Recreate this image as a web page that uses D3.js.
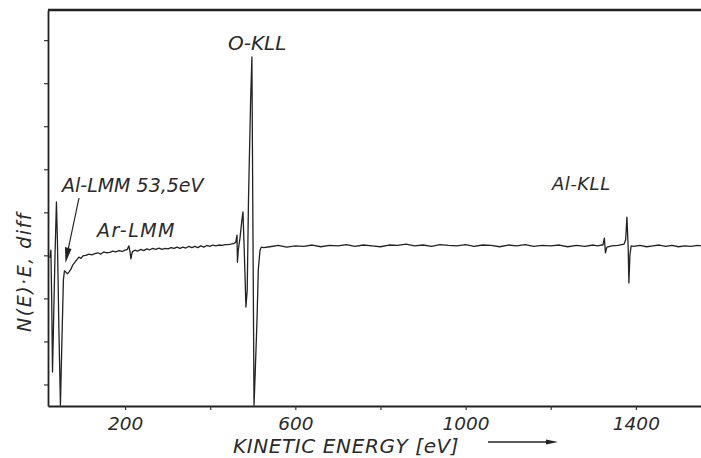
<!DOCTYPE html>
<html>
<head>
<meta charset="utf-8">
<script src="https://cdn.jsdelivr.net/npm/d3@7/dist/d3.min.js"></script>
<style>
  body { margin: 0; background: #fff; }
  text { font-family: "DejaVu Sans", sans-serif; font-style: italic; fill: #2a2a2a; }
</style>
</head>
<body>
<div id="spectrum"></div>
<script>
// Auger spectrum, N(E)*E differentiated (y in arbitrary divisions)

// low energy part: Al-LMM doublet + Ar-LMM
var lowEnergy = [23.5, 25.8, 27.7, 29.6, 31.7, 35.2, 38.8, 41.1, 44.6, 48.2, 51.7, 55.2, 57.6, 61.1, 64.6, 68.1, 72.8, 77.5, 84.6, 91.6,
    96.3, 101, 108, 115, 122, 129, 136, 143, 150, 157, 164, 171, 178, 186, 193, 200, 205.5, 209, 211.4, 213.8,
    217, 223, 230, 237, 244, 251, 258, 265, 272, 280, 287, 294, 301, 308, 315, 322, 329, 336, 343, 350,
    357, 364, 371, 378, 385, 392, 399, 406, 413, 420, 428, 435, 442, 449, 456, 460];
var lowSignal = [2.94, 3.12, 1.96, 0.29, 1.27, 2.89, 4.24, 3.36, 1.27, -0.48, 1.03, 2.43, 2.64, 2.61, 2.57, 2.61, 2.68, 2.78, 2.87, 2.96,
    2.93, 2.99, 3.00, 3.03, 3.01, 3.04, 3.06, 3.03, 3.08, 3.06, 3.07, 3.10, 3.08, 3.11, 3.09, 3.12, 3.14, 3.22, 3.10, 2.92,
    3.08, 3.12, 3.10, 3.14, 3.11, 3.15, 3.13, 3.16, 3.14, 3.17, 3.14, 3.16, 3.15, 3.18, 3.16, 3.19, 3.16, 3.19, 3.17, 3.21,
    3.18, 3.21, 3.18, 3.22, 3.19, 3.23, 3.21, 3.24, 3.22, 3.24, 3.23, 3.25, 3.25, 3.26, 3.28, 3.30];

// O-KLL group
var oxyEnergy = [463, 464, 466, 470, 474, 477, 480, 484, 487, 490, 495, 498, 500, 503, 506, 510, 513, 517, 520, 526];
var oxySignal = [3.47, 2.84, 3.12, 3.40, 3.78, 4.01, 3.12, 1.80, 2.20, 4.29, 6.61, 7.61, 4.29, -0.48, 0.34, 1.50, 2.66, 3.12, 3.19, 3.18];

// flat background up to Al-KLL
var midEnergy = [540, 560, 580, 600, 620, 640, 660, 680, 700, 720, 740, 760, 780, 800, 820, 840, 860, 880, 900, 920,
    940, 960, 980, 1000, 1020, 1040, 1060, 1080, 1100, 1120, 1140, 1160, 1180, 1200, 1220, 1240, 1260, 1280, 1300, 1310, 1318];
var midSignal = [3.20, 3.23, 3.19, 3.22, 3.21, 3.24, 3.20, 3.23, 3.22, 3.25, 3.21, 3.24, 3.22, 3.20, 3.24, 3.23, 3.26, 3.22, 3.24, 3.21,
    3.25, 3.23, 3.22, 3.25, 3.21, 3.24, 3.23, 3.20, 3.24, 3.22, 3.25, 3.21, 3.23, 3.22, 3.24, 3.20, 3.23, 3.21, 3.24, 3.22, 3.24];

// Al-KLL group and tail
var alEnergy = [1322.5, 1326, 1328.5, 1332, 1344, 1358, 1372, 1376, 1379, 1382, 1383.6, 1386, 1389, 1395, 1410, 1425, 1440, 1455, 1470, 1485,
    1500, 1515, 1530, 1545, 1553];
var alSignal = [3.24, 3.40, 3.06, 3.19, 3.22, 3.23, 3.26, 3.36, 3.89, 3.17, 2.36, 3.01, 3.22, 3.21, 3.23, 3.20, 3.22, 3.24, 3.21, 3.23,
    3.20, 3.22, 3.21, 3.23, 3.22];

var xTicks = [200, 400, 600, 800, 1000, 1200, 1400];
var xTickLabels = ["200", "", "600", "", "1000", "", "1400"];
var yTicks = [0, 1, 2, 3, 4, 5, 6, 7, 8];

var width = 701,
    height = 458;

var svg = d3.select("#spectrum").append("svg")
    .attr("width", width)
    .attr("height", height);

var x = d3.scaleLinear().domain([19, 1553]).range([48, 701]);
var y = d3.scaleLinear().domain([-0.5, 8.7]).range([406, 10]);

// join the pieces into one trace
var energy = lowEnergy.concat(oxyEnergy, midEnergy, alEnergy);
var signal = lowSignal.concat(oxySignal, midSignal, alSignal);
var trace = energy.map(function(e, i) { return [e, signal[i]]; });

var line = d3.line()
    .x(function(d) { return x(d[0]); })
    .y(function(d) { return y(d[1]); });

svg.append("path")
    .datum(trace)
    .attr("d", line)
    .attr("fill", "none")
    .attr("stroke", "#222")
    .attr("stroke-width", 1.3)
    .attr("stroke-linejoin", "round");

// axes
var yAxis = d3.axisLeft(y).tickValues(yTicks).tickFormat("").tickSize(4).tickSizeOuter(0);
svg.append("g")
    .attr("transform", "translate(48,0)")
    .call(yAxis)
    .call(function(g) {
        g.select(".domain").attr("stroke", "#222").attr("stroke-width", 1.8);
        g.selectAll(".tick line").attr("stroke", "#333").attr("stroke-width", 1.2);
    });

var xAxis = d3.axisBottom(x).tickValues(xTicks)
    .tickFormat(function(d, i) { return xTickLabels[i]; })
    .tickSize(4).tickSizeOuter(0).tickPadding(7);
svg.append("g")
    .attr("transform", "translate(0,406)")
    .call(xAxis)
    .call(function(g) {
        g.select(".domain").attr("stroke", "#222").attr("stroke-width", 1.8);
        g.selectAll(".tick line").attr("stroke", "#333").attr("stroke-width", 1.2);
        g.selectAll(".tick text")
            .attr("font-family", "DejaVu Sans, sans-serif")
            .attr("font-style", "italic")
            .attr("font-size", 18.5)
            .attr("fill", "#2a2a2a");
    });

// top frame
svg.append("line")
    .attr("x1", 48).attr("x2", 701)
    .attr("y1", y(8.7)).attr("y2", y(8.7))
    .attr("stroke", "#222")
    .attr("stroke-width", 2.4);

// axis titles
svg.append("text")
    .attr("transform", "translate(31,272) rotate(-90)")
    .attr("text-anchor", "middle")
    .attr("font-size", 19)
    .attr("letter-spacing", 1.5)
    .text("N(E)·E, diff");

svg.append("text")
    .attr("x", 233).attr("y", 453)
    .attr("font-size", 20)
    .attr("letter-spacing", 0.6)
    .text("KINETIC ENERGY [eV]");

// arrow after x title
svg.append("line")
    .attr("x1", 488).attr("x2", 548)
    .attr("y1", 442).attr("y2", 442)
    .attr("stroke", "#222").attr("stroke-width", 1.5);
svg.append("path")
    .attr("d", "M546,439.5 L558,442 L546,444.5 Z")
    .attr("fill", "#222");

// peak labels
svg.append("text").attr("x", 228).attr("y", 50).attr("font-size", 20).text("O-KLL");
svg.append("text").attr("x", 62).attr("y", 192).attr("font-size", 19).text("Al-LMM 53,5eV");
svg.append("text").attr("x", 97).attr("y", 237).attr("font-size", 19).attr("letter-spacing", 1.5).text("Ar-LMM");
svg.append("text").attr("x", 552).attr("y", 190).attr("font-size", 18).attr("letter-spacing", 0.5).text("Al-KLL");

// pointer to the Al-LMM feature
svg.append("line")
    .attr("x1", 79).attr("y1", 198)
    .attr("x2", 68).attr("y2", 250)
    .attr("stroke", "#222").attr("stroke-width", 1.2);
svg.append("path")
    .attr("d", "M65,247 L71.5,249 L65.5,263 Z")
    .attr("fill", "#222");
</script>
</body>
</html>
